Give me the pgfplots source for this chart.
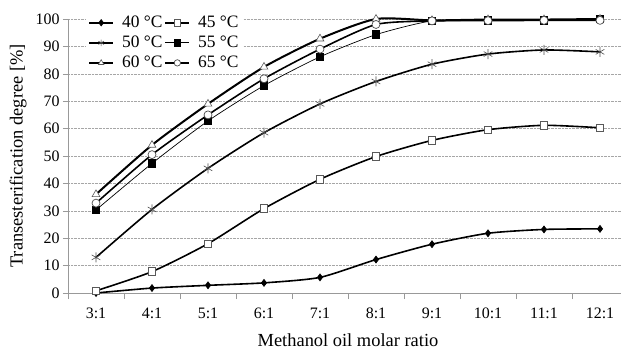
\documentclass[border=0pt]{standalone}
\usepackage{pgfplots}
\pgfplotsset{compat=1.18}
\usepackage{fontspec}
\setmainfont{Liberation Serif}
\begin{document}
\begin{tikzpicture}
\begin{axis}[
  at={(0,0)}, anchor=south west,
  scale only axis, width=553bp, height=274bp,
  xmin=-0.5, xmax=9.375, ymin=0, ymax=100,
  clip=false,
  axis x line*=bottom, axis y line*=left,
  axis line style={draw=gray!80, -},
  ytick={0,10,...,100},
  xtick={0,...,9},
  xticklabels={3:1,4:1,5:1,6:1,7:1,8:1,9:1,10:1,11:1,12:1},
  minor xtick={-0.5,0.5,...,8.5},
  major x tick style={draw=none},
  tick style={draw=gray!80, thin},
  major tick length=5bp, minor tick length=6bp,
  tick align=outside,
  ymajorgrids, grid style={densely dotted, gray!70},
  ticklabel style={font=\fontsize{16}{18}\selectfont},
  xticklabel style={yshift=-6bp},
  /pgf/number format/assume math mode=true,
  xlabel={Methanol oil molar ratio},
  ylabel={Transesterification degree [\%]},
  label style={font=\fontsize{18.5}{21}\selectfont},
  xlabel style={at={(axis cs:4.5,0)}, yshift=-47bp, anchor=center},
  ylabel style={at={(axis description cs:-0.0904,0.5)}, anchor=center},
  legend columns=2,
  legend cell align=left,
  legend style={at={(axis description cs:0.0325,1.0255)}, anchor=north west,
    draw=none, fill=white, inner sep=2bp, row sep=3bp,
    font=\fontsize{17.5}{20}\selectfont,
    nodes={font=\fontsize{17.5}{20}\selectfont},
    /tikz/every odd column/.append style={column sep=6bp}},
  legend image code/.code={\draw[mark repeat=2,mark phase=2] plot coordinates {(0bp,0bp)(12bp,0bp)(24bp,0bp)};},
  every legend image post/.append style={mark size=3.2bp},
  every axis plot/.append style={smooth, tension=0.4},
]
\addplot[black, line width=1.6bp, mark=diamond*, mark size=3.5bp, mark options={fill=black, line width=0.6bp}]
 coordinates {(0,0) (1,1.8) (2,2.8) (3,3.7) (4,5.7) (5,12.2) (6,17.8) (7,21.8) (8,23.2) (9,23.4)};
\addlegendentry{40 °C\hspace{11bp}}
\addplot[black, line width=1.6bp, mark=square*, mark size=3.8bp, mark options={fill=white, draw=gray!70!black, line width=0.7bp}]
 coordinates {(0,0.8) (1,7.8) (2,18) (3,30.8) (4,41.5) (5,49.8) (6,55.7) (7,59.6) (8,61.2) (9,60.3)};
\addlegendentry{45 °C}
\addplot[black, line width=1.6bp, mark=asterisk, mark size=5bp, mark options={draw=gray!60!black, line width=0.6bp}]
 coordinates {(0,13) (1,30.5) (2,45.5) (3,58.5) (4,69) (5,77.2) (6,83.5) (7,87.2) (8,88.7) (9,88)};
\addlegendentry{50 °C\hspace{11bp}}
\addplot[black, line width=0.7bp, mark=square*, mark size=3.8bp, mark options={fill=black}]
 coordinates {(0,30.3) (1,47.3) (2,62.8) (3,75.7) (4,86.2) (5,94.3) (6,99.3) (7,99.5) (8,99.6) (9,100)};
\addlegendentry{55 °C}
\addplot[black, line width=2bp, mark=triangle*, mark size=4.5bp, mark options={fill=white, draw=gray!70!black, line width=0.6bp}]
 coordinates {(0,36) (1,54) (2,69) (3,82.5) (4,92.8) (5,100) (6,99.5) (7,99.8) (8,99.8) (9,100)};
\addlegendentry{60 °C\hspace{11bp}}
\addplot[black, line width=1.6bp, mark=*, mark size=4bp, mark options={fill=white, draw=gray!60!black, line width=0.7bp}]
 coordinates {(0,32.8) (1,50.5) (2,65) (3,78.2) (4,89) (5,98) (6,99.3) (7,99.4) (8,99.5) (9,99.5)};
\addlegendentry{65 °C}
\end{axis}
\pgfresetboundingbox
\useasboundingbox (-68bp,-59bp) rectangle (553bp,293bp);
\end{tikzpicture}
\end{document}
